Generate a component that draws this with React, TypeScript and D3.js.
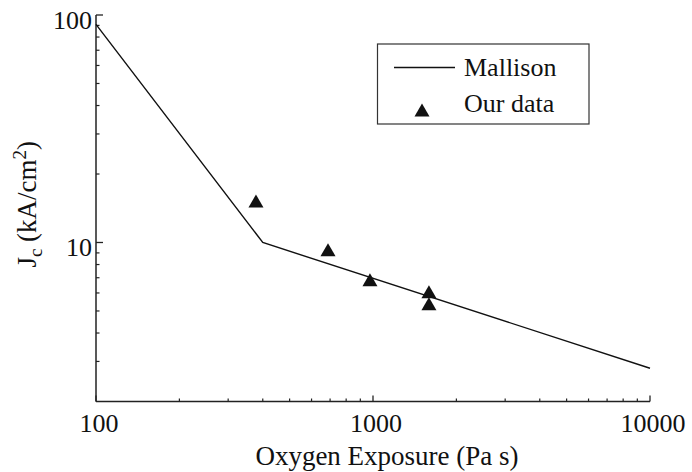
import React from "react";
import * as d3 from "d3";

// Mallison model (piecewise power law)
const mallisonExposure = [100, 400, 10000];
const mallisonJc = [91, 10, 2.8];

// Measured critical current density
const ourExposure = [378, 688, 975, 1592, 1592];
const ourJc = [15.2, 9.3, 6.85, 6.07, 5.38];

const xTickValues = [100, 1000, 10000];
const yTickValues = [10, 100];

const W = 692;
const H = 472;
const left = 96;
const right = 650;
const top = 15;
const bottom = 401.5;
const FONT = "Liberation Serif";

export default function App() {
  const x = d3.scaleLog().domain([100, 10000]).range([left, right]);
  const y = d3.scaleLog().domain([2, 100]).range([bottom, top]);

  const line = d3
    .line<number>()
    .x((_, i) => x(mallisonExposure[i]))
    .y((d) => y(d));

  const xMinor: number[] = [];
  for (const dec of [100, 1000]) for (let k = 2; k <= 9; k++) xMinor.push(dec * k);
  const yMinor: number[] = [];
  for (let k = 3; k <= 9; k++) yMinor.push(k);
  for (let k = 20; k <= 90; k += 10) yMinor.push(k);

  // upward triangle, centred on its bounding box
  const tri = (cx: number, cy: number, w = 15, h = 13) =>
    `M${cx},${cy - h / 2}L${cx + w / 2},${cy + h / 2}L${cx - w / 2},${cy + h / 2}Z`;

  const txt = { fontFamily: FONT, fill: "#111", fontSize: 26 };
  const title = { ...txt, fontSize: 27 };

  return (
    <svg
      width={W}
      height={H}
      style={{ position: "absolute", left: 0, top: 0, background: "#fff", fontFamily: FONT }}
    >
      {/* axes */}
      <line x1={left} x2={left} y1={top} y2={bottom} stroke="#222" strokeWidth={1.5} />
      <line x1={left} x2={right} y1={bottom} y2={bottom} stroke="#222" strokeWidth={1.5} />

      {yTickValues.map((v) => (
        <g key={"y" + v}>
          <line x1={left} x2={left + 7} y1={y(v)} y2={y(v)} stroke="#222" strokeWidth={1.3} />
          <text x={92} y={y(v) + 14} textAnchor="end" style={txt}>
            {v}
          </text>
        </g>
      ))}
      {yMinor.map((v) => (
        <line key={"ym" + v} x1={left} x2={left + 3.5} y1={y(v)} y2={y(v)} stroke="#222" strokeWidth={1.2} />
      ))}

      {xTickValues.map((v) => (
        <g key={"x" + v}>
          <line x1={x(v)} x2={x(v)} y1={bottom} y2={bottom - 6} stroke="#222" strokeWidth={1.3} />
          <text x={x(v) + 3} y={432} textAnchor="middle" style={txt}>
            {v}
          </text>
        </g>
      ))}
      {xMinor.map((v) => (
        <line key={"xm" + v} x1={x(v)} x2={x(v)} y1={bottom} y2={bottom - 3} stroke="#222" strokeWidth={1.2} />
      ))}

      {/* axis titles */}
      <text x={387} y={465} textAnchor="middle" style={title}>
        Oxygen Exposure (Pa s)
      </text>
      <text
        transform={`translate(36, ${(top + bottom) / 2 - 4}) rotate(-90)`}
        textAnchor="middle"
        style={title}
      >
        J<tspan fontSize={19} dy={6}>c</tspan>
        <tspan dy={-6}> (kA/cm</tspan>
        <tspan fontSize={19} dy={-10}>2</tspan>
        <tspan dy={10}>)</tspan>
      </text>

      {/* Mallison line */}
      <path d={line(mallisonJc) ?? ""} fill="none" stroke="#111" strokeWidth={1.4} />

      {/* our data */}
      {ourJc.map((v, i) => (
        <path key={"p" + i} d={tri(x(ourExposure[i]), y(v))} fill="#111" />
      ))}

      {/* legend */}
      <rect x={377.5} y={44} width={211.5} height={80} fill="#fff" stroke="#333" strokeWidth={1.2} />
      <line x1={394} x2={455} y1={67.5} y2={67.5} stroke="#111" strokeWidth={1.4} />
      <text x={464} y={76} style={txt}>
        Mallison
      </text>
      <path d={tri(422, 110)} fill="#111" />
      <text x={464} y={112} style={txt}>
        Our data
      </text>
    </svg>
  );
}
